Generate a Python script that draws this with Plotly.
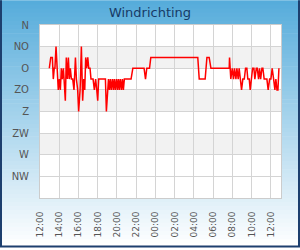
import plotly.graph_objects as go

# ---- data ----
times = [
    "2024-01-01 12:58", "2024-01-01 13:07", "2024-01-01 13:17", "2024-01-01 13:23", "2024-01-01 13:29",
    "2024-01-01 13:33", "2024-01-01 13:40", "2024-01-01 13:48", "2024-01-01 13:54", "2024-01-01 14:01",
    "2024-01-01 14:07", "2024-01-01 14:13", "2024-01-01 14:19", "2024-01-01 14:26", "2024-01-01 14:32",
    "2024-01-01 14:38", "2024-01-01 14:44", "2024-01-01 14:51", "2024-01-01 14:57", "2024-01-01 15:03",
    "2024-01-01 15:09", "2024-01-01 15:16", "2024-01-01 15:24", "2024-01-01 15:32", "2024-01-01 15:41",
    "2024-01-01 15:47", "2024-01-01 15:55", "2024-01-01 16:01", "2024-01-01 16:10", "2024-01-01 16:18",
    "2024-01-01 16:26", "2024-01-01 16:33", "2024-01-01 16:39", "2024-01-01 16:45", "2024-01-01 16:51",
    "2024-01-01 16:58", "2024-01-01 17:04", "2024-01-01 17:12", "2024-01-01 17:18", "2024-01-01 17:25",
    "2024-01-01 17:31", "2024-01-01 17:39", "2024-01-01 17:47", "2024-01-01 17:54", "2024-01-01 18:00",
    "2024-01-01 18:06", "2024-01-01 18:48", "2024-01-01 18:54", "2024-01-01 19:00", "2024-01-01 19:07",
    "2024-01-01 19:13", "2024-01-01 19:19", "2024-01-01 19:25", "2024-01-01 19:32", "2024-01-01 19:38",
    "2024-01-01 19:44", "2024-01-01 19:50", "2024-01-01 19:57", "2024-01-01 20:03", "2024-01-01 20:09",
    "2024-01-01 20:15", "2024-01-01 20:21", "2024-01-01 20:28", "2024-01-01 20:34", "2024-01-01 20:40",
    "2024-01-01 20:46", "2024-01-01 21:28", "2024-01-01 21:39", "2024-01-01 22:49", "2024-01-01 22:58",
    "2024-01-01 23:06", "2024-01-01 23:23", "2024-01-01 23:31", "2024-01-02 04:24", "2024-01-02 04:33",
    "2024-01-02 05:10", "2024-01-02 05:21", "2024-01-02 05:35", "2024-01-02 05:46", "2024-01-02 07:40",
    "2024-01-02 07:42", "2024-01-02 07:50", "2024-01-02 07:59", "2024-01-02 08:07", "2024-01-02 08:13",
    "2024-01-02 08:22", "2024-01-02 08:28", "2024-01-02 08:36", "2024-01-02 08:42", "2024-01-02 08:51",
    "2024-01-02 08:57", "2024-01-02 09:05", "2024-01-02 09:14", "2024-01-02 09:22", "2024-01-02 09:30",
    "2024-01-02 09:36", "2024-01-02 09:45", "2024-01-02 09:51", "2024-01-02 09:59", "2024-01-02 10:06",
    "2024-01-02 10:14", "2024-01-02 10:20", "2024-01-02 10:29", "2024-01-02 10:35", "2024-01-02 10:43",
    "2024-01-02 10:49", "2024-01-02 10:56", "2024-01-02 11:04", "2024-01-02 11:10", "2024-01-02 11:18",
    "2024-01-02 11:27", "2024-01-02 11:35", "2024-01-02 11:43", "2024-01-02 11:52", "2024-01-02 12:00",
    "2024-01-02 12:08", "2024-01-02 12:17", "2024-01-02 12:25", "2024-01-02 12:31", "2024-01-02 12:38",
    "2024-01-02 12:44", "2024-01-02 12:47", "2024-01-02 12:50",
]
direction = [
    90, 67.5, 67.5, 112.5, 90,
    90, 45, 112.5, 135, 112.5,
    135, 90, 112.5, 90, 135,
    157.5, 67.5, 112.5, 67.5, 112.5,
    90, 112.5, 112.5, 135, 67.5,
    112.5, 135, 180, 135, 45,
    157.5, 112.5, 135, 67.5, 90,
    67.5, 90, 90, 112.5, 112.5,
    112.5, 135, 112.5, 135, 157.5,
    112.5, 112.5, 180, 135, 112.5,
    135, 112.5, 135, 112.5, 135,
    112.5, 135, 112.5, 135, 112.5,
    135, 112.5, 135, 112.5, 135,
    112.5, 112.5, 90, 90, 112.5,
    90, 90, 67.5, 67.5, 112.5,
    112.5, 67.5, 67.5, 90, 90,
    67.5, 112.5, 90, 112.5, 90,
    112.5, 90, 112.5, 90, 112.5,
    135, 112.5, 112.5, 90, 90,
    112.5, 112.5, 135, 112.5, 90,
    90, 112.5, 90, 90, 112.5,
    90, 112.5, 90, 90, 112.5,
    112.5, 112.5, 135, 112.5, 112.5,
    90, 112.5, 135, 112.5, 135,
    135, 90, 90,
]
dir_ticks = [0, 45, 90, 135, 180, 225, 270, 315]
dir_labels = ["N", "NO", "O", "ZO", "Z", "ZW", "W", "NW"]
band_ranges = [(45, 90), (135, 180), (225, 270)]

# ---- layout geometry ----
W, H = 300, 250
ML, MR, MT, MB = 40, 19, 25, 50
PW, PH = W - ML - MR, H - MT - MB


def px_x(p):
    return (p - ML) / PW


def px_y(p):
    return (H - MB - p) / PH


def lerp(a, b, t):
    return int(round(a + (b - a) * t))


top_c = (86, 172, 219)
bot_c = (255, 255, 255)
shapes = []
n = 60
for i in range(n):
    t = i / (n - 1)
    c = tuple(lerp(top_c[k], bot_c[k], t) for k in range(3))
    y0 = i * H / n
    y1 = (i + 1) * H / n + 0.6
    shapes.append(dict(type="rect", xref="paper", yref="paper", layer="below",
                       x0=px_x(-2), x1=px_x(W + 2), y0=px_y(y1), y1=px_y(y0),
                       fillcolor="rgb(%d,%d,%d)" % c, line=dict(width=0)))

# white plot area on top of the gradient
shapes.append(dict(type="rect", xref="paper", yref="paper", layer="below",
                   x0=0, x1=1, y0=0, y1=1, fillcolor="white", line=dict(width=0)))

border = "#1d3f6e"
for (xa, ya, xb, yb) in [(1, 0, 1, H - 1), (W - 1, 0, W - 1, H - 1), (0, H - 1, W, H - 1)]:
    shapes.append(dict(type="line", xref="paper", yref="paper", layer="above",
                       x0=px_x(xa), x1=px_x(xb), y0=px_y(ya), y1=px_y(yb),
                       line=dict(color=border, width=2)))

for (a, b) in band_ranges:
    shapes.append(dict(type="rect", xref="paper", yref="y", layer="below",
                       x0=0, x1=1, y0=a, y1=b, fillcolor="#f2f2f2", line=dict(width=0)))

fig = go.Figure()
fig.add_trace(go.Scatter(x=times, y=direction, mode="lines",
                         line=dict(color="#ff0000", width=1.5), hoverinfo="skip"))

font_family = "DejaVu Sans"
fig.update_layout(
    width=W, height=H,
    margin=dict(l=ML, r=MR, t=MT, b=MB, pad=0),
    paper_bgcolor="white", plot_bgcolor="white",
    showlegend=False,
    shapes=shapes,
    title=dict(text="Windrichting", x=0.5, xref="container", xanchor="center",
               y=1 - 12 / H, yref="container", yanchor="middle",
               font=dict(family=font_family, size=13, color="#173a66")),
    font=dict(family=font_family),
)
fig.update_xaxes(
    type="date", range=["2024-01-01 12:00", "2024-01-02 13:03"],
    tick0="2024-01-01 12:00", dtick=2 * 3600 * 1000, tickformat="%H:%M",
    tickangle=-90, tickfont=dict(family=font_family, size=9, color="#555555"),
    ticks="", ticklabelstandoff=9,
    showgrid=True, gridcolor="#d4d4d4", gridwidth=1,
    showline=True, linecolor="#cccccc", linewidth=1, mirror=True, zeroline=False,
)
fig.update_yaxes(
    range=[360, 0], tickvals=dir_ticks, ticktext=dir_labels,
    tickfont=dict(family=font_family, size=10, color="#555555"),
    ticks="", ticklabelstandoff=8,
    showgrid=True, gridcolor="#d4d4d4", gridwidth=1,
    showline=True, linecolor="#cccccc", linewidth=1, mirror=True, zeroline=False,
)

fig.write_html("out.html")
